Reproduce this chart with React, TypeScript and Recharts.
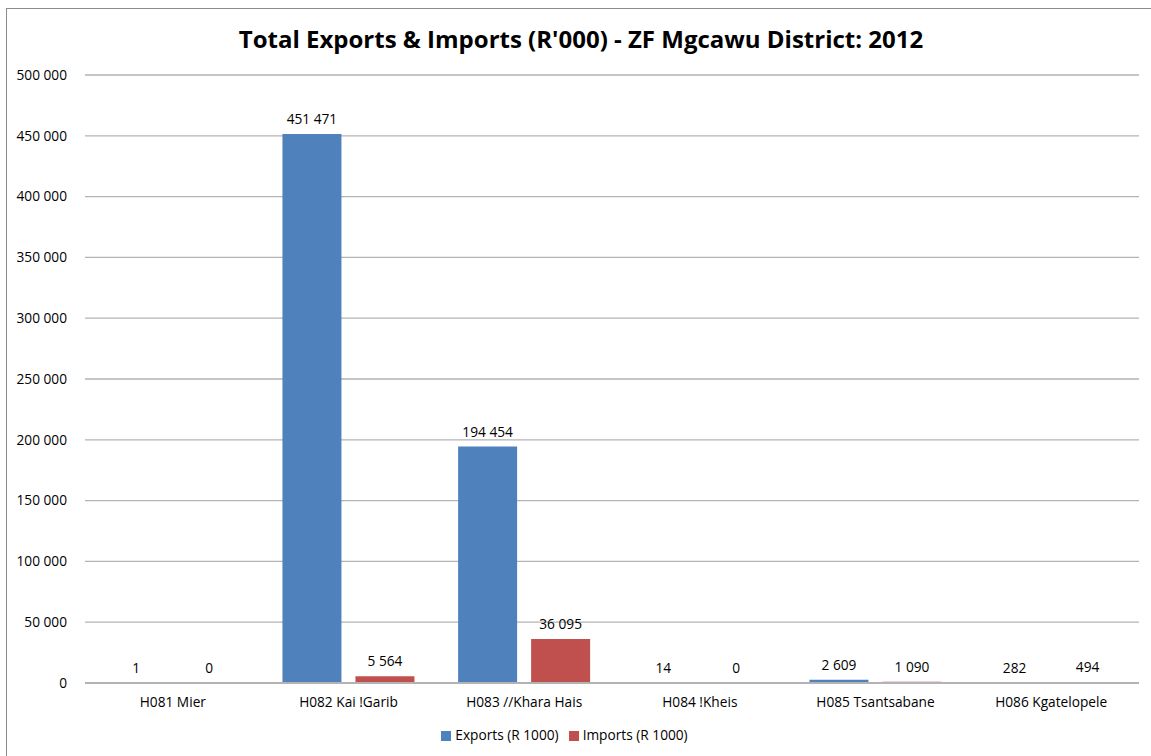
import React from 'react';
import { BarChart, Bar, XAxis, YAxis, CartesianGrid, Legend, LabelList } from 'recharts';

const categories = ['H081 Mier', 'H082 Kai !Garib', 'H083 //Khara Hais', 'H084 !Kheis', 'H085 Tsantsabane', 'H086 Kgatelopele'];
const exportsValues = [1, 451471, 194454, 14, 2609, 282];
const importsValues = [0, 5564, 36095, 0, 1090, 494];
const yTicks = [0, 50000, 100000, 150000, 200000, 250000, 300000, 350000, 400000, 450000, 500000];

const data = categories.map((name, i) => ({ name, exports: exportsValues[i], imports: importsValues[i] }));

const fmt = (v: any) => {
  const n = Number(v);
  return String(Math.round(n)).replace(/\B(?=(\d{3})+(?!\d))/g, ' ');
};

const FONT = '"Open Sans", sans-serif';
const FS = 13.7;

const renderLabel = (props: any) => {
  const { x, y, width, value } = props;
  return (
    <text x={Number(x) + Number(width) / 2} y={Number(y) - 10} textAnchor="middle" fontFamily={FONT} fontSize={FS} fill="#000">
      {fmt(value)}
    </text>
  );
};

export default function App() {
  return (
    <div style={{ position: 'absolute', left: 0, top: 0, width: 1151, height: 756, overflow: 'hidden', background: '#fff' }}>
      <div style={{ position: 'absolute', left: 6, top: 8, width: 1200, height: 800, border: '1.5px solid #8c8c8c', boxSizing: 'border-box' }} />
      <div style={{ position: 'absolute', left: 0, top: 22, width: 1162, textAlign: 'center', fontFamily: FONT, fontWeight: 700, fontSize: 24, color: '#000' }}>
        Total Exports &amp; Imports (R'000) - ZF Mgcawu District: 2012
      </div>
      <div style={{ position: 'absolute', left: 0, top: 0 }}>
        <BarChart width={1151} height={756} data={data} margin={{ top: 75, right: 12, left: 0, bottom: 12 }} barGap={14} barCategoryGap="12.4%">
          <CartesianGrid vertical={false} stroke="#b3b3b3" strokeWidth={1.3} />
          <XAxis dataKey="name" tickLine={false} axisLine={{ stroke: '#b3b3b3', strokeWidth: 2 }} tick={{ fontFamily: FONT, fontSize: FS, fill: '#000' }} tickMargin={8} height={42} interval={0} />
          <YAxis domain={[0, 500000]} ticks={yTicks} tickFormatter={fmt} axisLine={false} tickLine={false} width={85} tickMargin={12} tick={{ fontFamily: FONT, fontSize: FS, fill: '#000' }} interval={0} />
          <Legend verticalAlign="bottom" align="center" iconType="square" iconSize={10} wrapperStyle={{ fontFamily: FONT, fontSize: FS }} formatter={(v: any) => <span style={{ color: '#000' }}>{v}</span>} />
          <Bar dataKey="exports" name="Exports (R 1000)" fill="#4F81BD" minPointSize={0.01} isAnimationActive={false}>
            <LabelList dataKey="exports" content={renderLabel} />
          </Bar>
          <Bar dataKey="imports" name="Imports (R 1000)" fill="#C0504D" minPointSize={0.01} isAnimationActive={false}>
            <LabelList dataKey="imports" content={renderLabel} />
          </Bar>
        </BarChart>
      </div>
    </div>
  );
}
